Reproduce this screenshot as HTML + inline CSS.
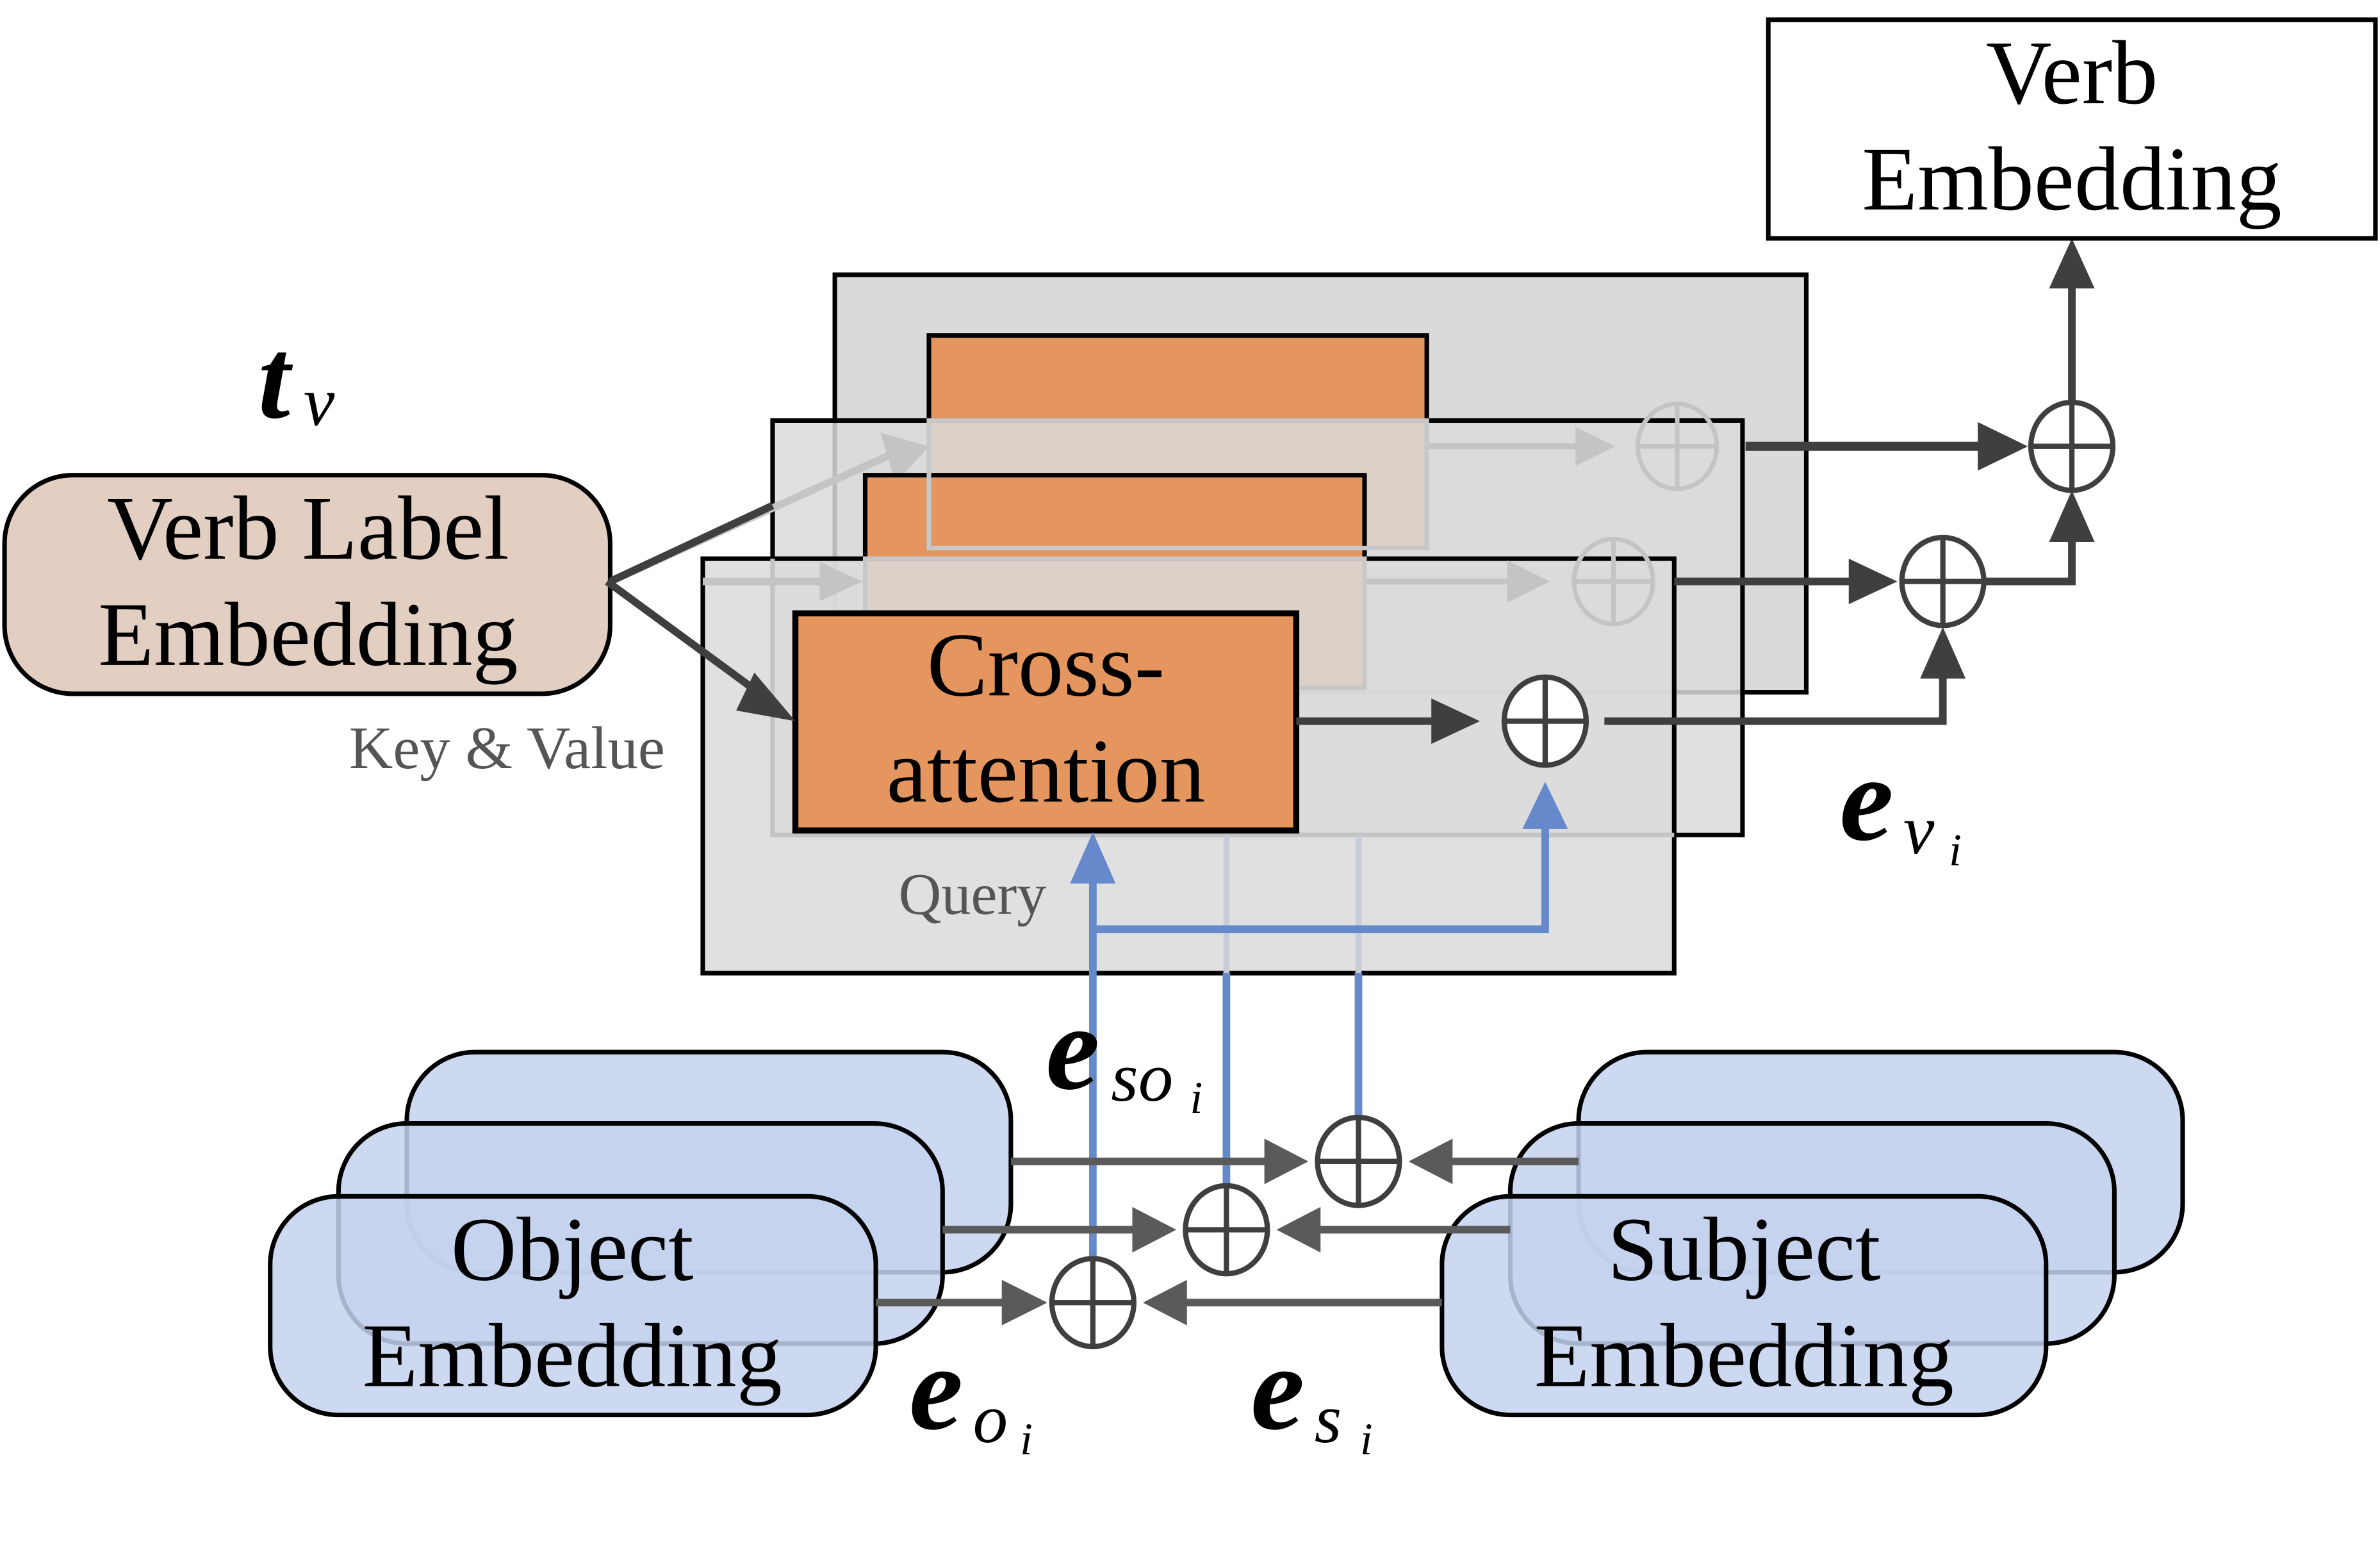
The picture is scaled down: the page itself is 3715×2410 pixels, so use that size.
<!DOCTYPE html>
<html><head><meta charset="utf-8"><style>html,body{margin:0;padding:0;background:#fff}svg{display:block}</style></head>
<body>
<svg width="3715" height="2410" viewBox="0 0 1568 1017" preserveAspectRatio="none" xmlns="http://www.w3.org/2000/svg" font-family="'Liberation Serif',serif">
<g id="all">
<!-- back panel -->
<rect x="550" y="181" width="640" height="275" fill="#dadada" stroke="#000" stroke-width="3"/>
<rect x="612" y="221" width="328" height="140" fill="#e5965f" stroke="#000" stroke-width="3"/>
<!-- middle panel -->
<rect x="509" y="277" width="639" height="273" fill="#dadada" fill-opacity="0.85" stroke="#000" stroke-width="3"/>
<line x1="940" y1="294" x2="1040" y2="294" stroke="#c4c4c4" stroke-width="4"/>
<path d="M1038,281 L1064,294 L1038,307z" fill="#c4c4c4"/>
<ellipse cx="1105" cy="294" rx="26" ry="28" fill="none" stroke="#c4c4c4" stroke-width="3"/>
<line x1="1079" y1="294" x2="1131" y2="294" stroke="#c4c4c4" stroke-width="3"/><line x1="1105" y1="266" x2="1105" y2="322" stroke="#c4c4c4" stroke-width="3"/>
<line x1="402" y1="383" x2="590" y2="298" stroke="#c4c4c4" stroke-width="5"/>
<path d="M580,285 L612,294 L590,318z" fill="#c4c4c4"/>
<rect x="570" y="313" width="329" height="140" fill="#e5965f" stroke="#000" stroke-width="3"/>
<!-- front panel -->
<rect x="463" y="368" width="640" height="273" fill="#dadada" fill-opacity="0.85" stroke="#000" stroke-width="3"/>
<line x1="463" y1="383" x2="545" y2="383" stroke="#c4c4c4" stroke-width="5"/>
<path d="M540,370 L568,383 L540,396z" fill="#c4c4c4"/>
<line x1="899" y1="383" x2="995" y2="383" stroke="#c4c4c4" stroke-width="4"/>
<path d="M993,369 L1021,383 L993,397z" fill="#c4c4c4"/>
<ellipse cx="1063" cy="383" rx="26" ry="28" fill="none" stroke="#c4c4c4" stroke-width="3"/>
<line x1="1037" y1="383" x2="1089" y2="383" stroke="#c4c4c4" stroke-width="3"/><line x1="1063" y1="355" x2="1063" y2="411" stroke="#c4c4c4" stroke-width="3"/>
<rect x="612" y="277" width="328" height="84" fill="none" stroke="#c8c8c8" stroke-width="3"/>
<rect x="570" y="368" width="329" height="85" fill="none" stroke="#c8c8c8" stroke-width="3"/>
<polyline points="509,368 509,550 1103,550" fill="none" stroke="#c4c4c4" stroke-width="3"/>
<line x1="808" y1="550" x2="808" y2="641" stroke="#c8ccd6" stroke-width="4"/>
<line x1="895" y1="550" x2="895" y2="641" stroke="#c8ccd6" stroke-width="4"/>
<!-- front orange -->
<rect x="524" y="404" width="330" height="143" fill="#e5965f" stroke="#000" stroke-width="4"/>
<text x="689" y="458" font-size="60" text-anchor="middle">Cross-</text>
<text x="689" y="528" font-size="60" text-anchor="middle">attention</text>
<text x="592" y="602" font-size="39" fill="#555">Query</text>

<!-- Verb label embedding -->
<rect x="3" y="313" width="399" height="144" rx="45" fill="#e2cfc2" stroke="#000" stroke-width="3"/>
<text x="203" y="368" font-size="60" text-anchor="middle">Verb Label</text>
<text x="203" y="438" font-size="60" text-anchor="middle">Embedding</text>
<text x="230" y="506" font-size="40" fill="#555">Key &amp; Value</text>
<text x="170" y="275" font-size="76" font-weight="bold" font-style="italic">t</text>
<text x="200" y="280" font-size="46" font-style="italic">v</text>
<!-- dark arrows -->
<line x1="402" y1="383" x2="509" y2="333" stroke="#3f3f3f" stroke-width="5"/>
<line x1="400" y1="383" x2="505" y2="460" stroke="#3f3f3f" stroke-width="5"/>
<path d="M497,443 L524,475 L485,468z" fill="#3f3f3f"/>
<line x1="854" y1="475" x2="945" y2="475" stroke="#3f3f3f" stroke-width="5"/>
<path d="M943,460 L975,475 L943,490z" fill="#3f3f3f"/>
<polyline points="1057,475 1280,475 1280,445" fill="none" stroke="#3f3f3f" stroke-width="5"/>
<path d="M1265,447 L1280,413 L1295,447z" fill="#3f3f3f"/>
<line x1="1103" y1="383" x2="1220" y2="383" stroke="#3f3f3f" stroke-width="5"/>
<path d="M1218,368 L1250,383 L1218,398z" fill="#3f3f3f"/>
<polyline points="1307,383 1365,383 1365,355" fill="none" stroke="#3f3f3f" stroke-width="5"/>
<path d="M1350,357 L1365,323 L1380,357z" fill="#3f3f3f"/>
<line x1="1150" y1="294" x2="1305" y2="294" stroke="#3f3f3f" stroke-width="6"/>
<path d="M1303,278 L1336,294 L1303,310z" fill="#3f3f3f"/>
<line x1="1365" y1="266" x2="1365" y2="188" stroke="#3f3f3f" stroke-width="5"/>
<path d="M1350,190 L1365,157 L1380,190z" fill="#3f3f3f"/>
<g fill="#fff" stroke="#3f3f3f" stroke-width="3.5">
<ellipse cx="1018" cy="475" rx="27" ry="29"/>
<ellipse cx="1280" cy="383" rx="27" ry="29"/>
<ellipse cx="1365" cy="294" rx="27" ry="29"/>
</g>
<g stroke="#3f3f3f" stroke-width="3.5">
<line x1="991" y1="475" x2="1045" y2="475"/><line x1="1018" y1="446" x2="1018" y2="504"/>
<line x1="1253" y1="383" x2="1307" y2="383"/><line x1="1280" y1="354" x2="1280" y2="412"/>
<line x1="1338" y1="294" x2="1392" y2="294"/><line x1="1365" y1="265" x2="1365" y2="323"/>
</g>
<!-- Verb embedding -->
<rect x="1165" y="13" width="400" height="144" fill="#fff" stroke="#000" stroke-width="3"/>
<text x="1365" y="68" font-size="60" text-anchor="middle">Verb</text>
<text x="1365" y="138" font-size="60" text-anchor="middle">Embedding</text>
<text x="1212" y="553" font-size="80" font-weight="bold" font-style="italic">e</text>
<text x="1254" y="562" font-size="46" font-style="italic">v</text>
<text x="1284" y="570" font-size="30" font-style="italic">i</text>

<!-- blue lines -->
<g stroke="#6589cb" stroke-width="5" fill="none">
<line x1="720" y1="830" x2="720" y2="575"/>
<polyline points="720,612 1018,612 1018,545"/>
<line x1="808" y1="641" x2="808" y2="782"/>
<line x1="895" y1="641" x2="895" y2="737"/>
</g>
<path d="M705,582 L720,548 L735,582z" fill="#6589cb"/>
<path d="M1003,546 L1018,515 L1033,546z" fill="#6589cb"/>

<g fill="#c4d2ee" fill-opacity="0.85" stroke="#000" stroke-width="3">
<rect x="268" y="693" width="398" height="145" rx="45"/>
<rect x="223" y="740" width="398" height="145" rx="45"/>
<rect x="178" y="788" width="399" height="144" rx="45"/>
<rect x="1040" y="693" width="398" height="145" rx="45"/>
<rect x="995" y="740" width="398" height="145" rx="45"/>
<rect x="950" y="788" width="398" height="144" rx="45"/>
</g>
<text x="377" y="843" font-size="60" text-anchor="middle">Object</text>
<text x="377" y="913" font-size="60" text-anchor="middle">Embedding</text>
<text x="1149" y="843" font-size="60" text-anchor="middle">Subject</text>
<text x="1149" y="913" font-size="60" text-anchor="middle">Embedding</text>

<g stroke="#5a5a5a" stroke-width="5">
<line x1="666" y1="765" x2="835" y2="765"/><line x1="1040" y1="765" x2="955" y2="765"/>
<line x1="621" y1="810" x2="748" y2="810"/><line x1="995" y1="810" x2="868" y2="810"/>
<line x1="577" y1="858" x2="662" y2="858"/><line x1="950" y1="858" x2="780" y2="858"/>
</g>
<g fill="#5a5a5a">
<path d="M833,750 L862,765 L833,780z"/><path d="M957,750 L928,765 L957,780z"/>
<path d="M746,795 L775,810 L746,825z"/><path d="M870,795 L841,810 L870,825z"/>
<path d="M660,843 L690,858 L660,873z"/><path d="M782,843 L753,858 L782,873z"/>
</g>
<g fill="#fff" stroke="#3f3f3f" stroke-width="3.5">
<ellipse cx="895" cy="765" rx="27" ry="29"/>
<ellipse cx="808" cy="810" rx="27" ry="29"/>
<ellipse cx="720" cy="858" rx="27" ry="29"/>
</g>
<g stroke="#3f3f3f" stroke-width="3.5">
<line x1="868" y1="765" x2="922" y2="765"/><line x1="895" y1="736" x2="895" y2="794"/>
<line x1="781" y1="810" x2="835" y2="810"/><line x1="808" y1="781" x2="808" y2="839"/>
<line x1="693" y1="858" x2="747" y2="858"/><line x1="720" y1="829" x2="720" y2="887"/>
</g>

<text x="689" y="717" font-size="80" font-weight="bold" font-style="italic">e</text>
<text x="732" y="725" font-size="46" font-style="italic">so</text>
<text x="784" y="733" font-size="30" font-style="italic">i</text>
<text x="599" y="941" font-size="80" font-weight="bold" font-style="italic">e</text>
<text x="641" y="950" font-size="46" font-style="italic">o</text>
<text x="672" y="958" font-size="30" font-style="italic">i</text>
<text x="824" y="941" font-size="80" font-weight="bold" font-style="italic">e</text>
<text x="866" y="950" font-size="46" font-style="italic">s</text>
<text x="896" y="958" font-size="30" font-style="italic">i</text>
</g>
</svg>
</body></html>
